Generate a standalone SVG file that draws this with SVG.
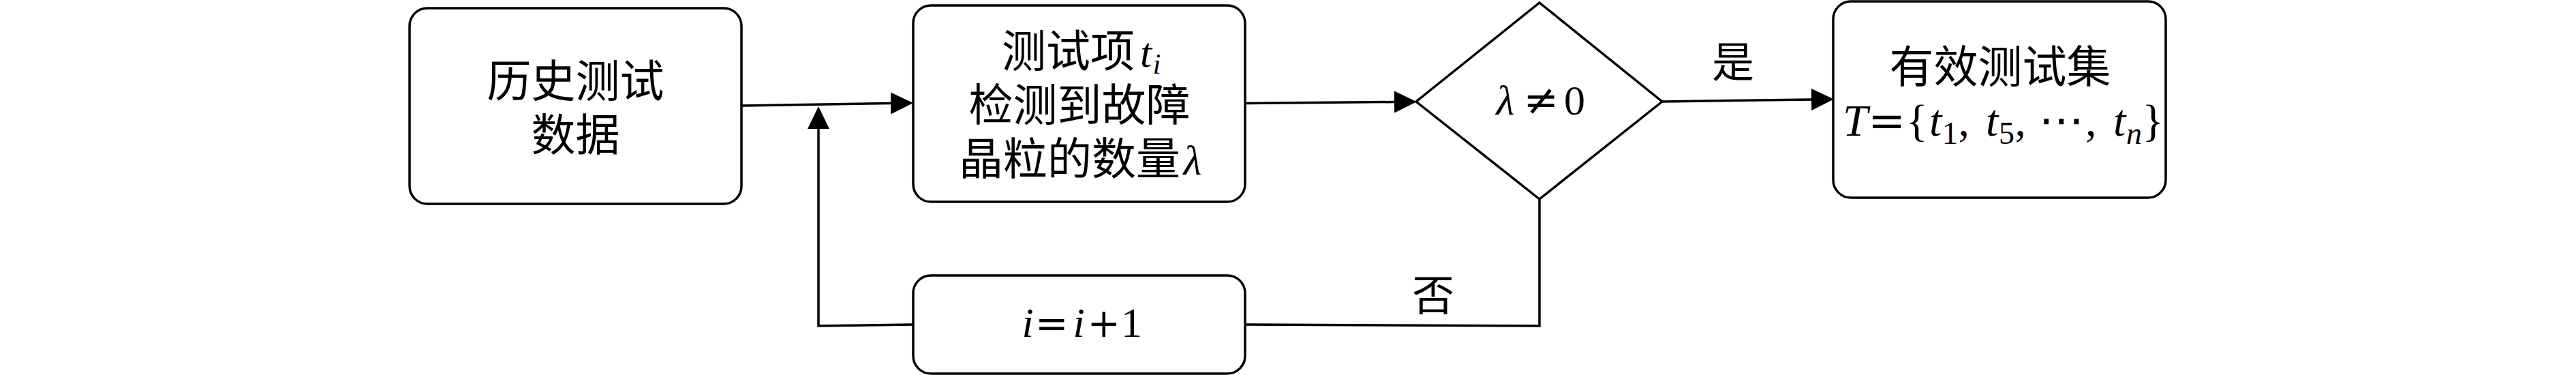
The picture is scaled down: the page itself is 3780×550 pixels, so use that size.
<svg xmlns="http://www.w3.org/2000/svg" width="3780" height="550" viewBox="0 0 3780 550">
<style>
.box{fill:#fff;stroke:#000;stroke-width:3.5}
.cn{font-family:"Noto Sans CJK SC","Noto Sans",sans-serif;font-size:65px;fill:#000}
.lbl{font-family:"Noto Sans CJK SC","Noto Sans",sans-serif;font-size:62px;fill:#000}
.m{font-family:"Liberation Serif","DejaVu Serif",serif;font-style:italic;fill:#000}
.r{font-family:"Liberation Serif","DejaVu Serif",serif;font-style:normal}
.op{font-family:"DejaVu Serif",serif;font-style:normal}
.dots{font-family:"DejaVu Sans",sans-serif;font-style:normal}
.ln{fill:none;stroke:#000;stroke-width:3.5}
</style>
<defs>
<marker id="ah" markerUnits="userSpaceOnUse" markerWidth="34" markerHeight="34" refX="0" refY="16" orient="auto" viewBox="0 0 34 32">
<path d="M0,0 L33,16 L0,32 Z" fill="#000"/>
</marker>
</defs>
<rect width="3780" height="550" fill="#fff"/>
<g id="connectors">
<line class="ln" x1="1088" y1="155" x2="1307" y2="151.5" marker-end="url(#ah)"/>
<line class="ln" x1="1827" y1="151.5" x2="2046" y2="149.5" marker-end="url(#ah)"/>
<line class="ln" x1="2439" y1="149" x2="2658" y2="146" marker-end="url(#ah)"/>
<polyline class="ln" points="2259,292 2259,478 1827,476"/>
<polyline class="ln" points="1340,476 1201,478 1201,189" marker-end="url(#ah)"/>
<text class="lbl" x="2543" y="114" text-anchor="middle">是</text>
<text class="lbl" x="2103" y="456" text-anchor="middle">否</text>
</g>
<g id="node-history">
<rect class="box" x="601" y="12" width="487" height="287" rx="26"/>
<text class="cn" text-anchor="middle"><tspan x="844.5" y="142">历史测试</tspan><tspan x="844.5" y="221">数据</tspan></text>
</g>
<g id="node-count">
<rect class="box" x="1340" y="8" width="487" height="288" rx="26"/>
<text class="cn"><tspan x="1470" y="98">测试项</tspan><tspan class="m" x="1673" y="98" font-size="62">t</tspan><tspan class="m" x="1691.5" y="108" font-size="43">i</tspan><tspan x="1421.5" y="177">检测到故障</tspan><tspan x="1407" y="256">晶粒的数量</tspan><tspan class="m" x="1736.5" y="256" font-size="62">λ</tspan></text>
</g>
<g id="node-decision">
<polygon class="box" points="2259,4 2439,149 2259,292 2078,149"/>
<text class="m" y="168" font-size="62"><tspan x="2195.5">λ</tspan><tspan class="op" x="2235.5">≠</tspan><tspan class="r" x="2295">0</tspan></text>
</g>
<g id="node-increment">
<rect class="box" x="1340" y="404" width="487" height="144" rx="26"/>
<text class="m" y="494" font-size="62"><tspan x="1499.5">i</tspan><tspan class="op" x="1519" font-size="58">=</tspan><tspan x="1574.5">i</tspan><tspan class="op" x="1595.5" font-size="58">+</tspan><tspan class="r" x="1645">1</tspan></text>
</g>
<g id="node-result">
<rect class="box" x="2690" y="2" width="488" height="288" rx="26"/>
<text class="cn" x="2935" y="121" text-anchor="middle">有效测试集</text>
<text class="m" y="199" font-size="66"><tspan x="2704">T</tspan><tspan class="op" x="2741">=</tspan><tspan class="r" x="2797">{</tspan><tspan x="2831">t</tspan><tspan class="r" x="2850" y="211" font-size="46">1</tspan><tspan class="r" x="2873.5" y="199">,</tspan><tspan x="2914">t</tspan><tspan class="r" x="2933" y="211" font-size="46">5</tspan><tspan class="r" x="2956.5" y="199">,</tspan><tspan class="dots" x="2991.5">⋯</tspan><tspan class="r" x="3060">,</tspan><tspan x="3101">t</tspan><tspan x="3120" y="211" font-size="46">n</tspan><tspan class="r" x="3143.5" y="199">}</tspan></text>
</g>
</svg>
